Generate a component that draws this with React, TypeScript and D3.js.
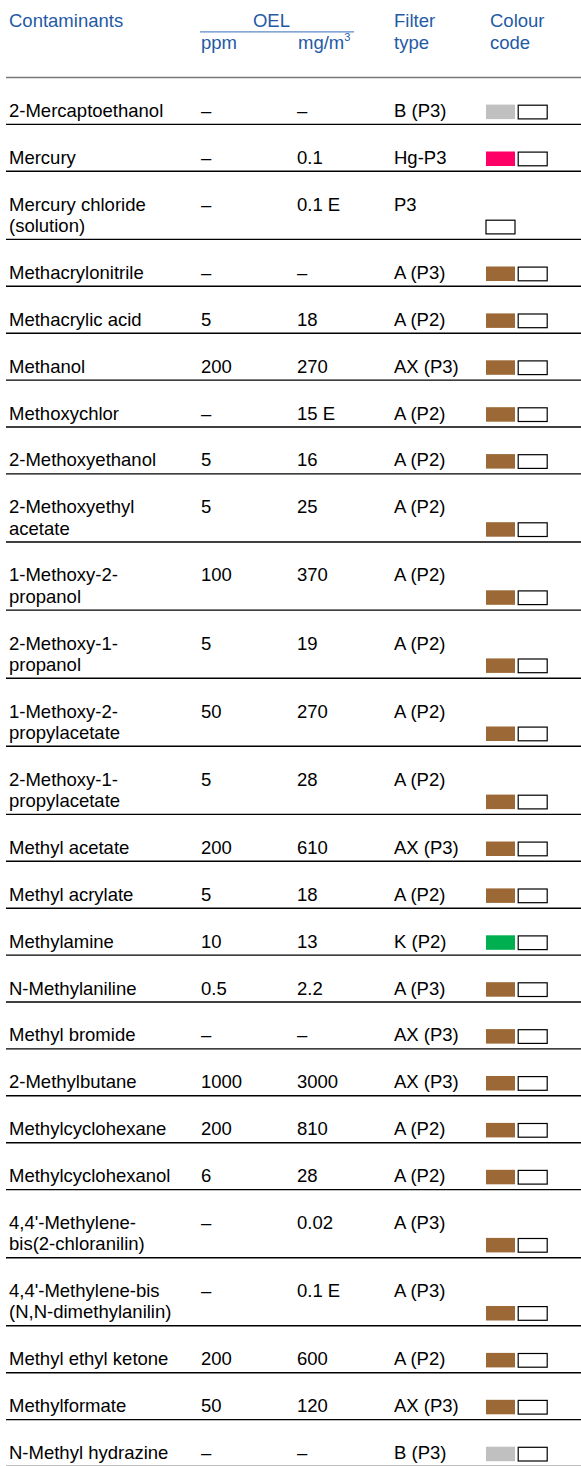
import React from "react";
import * as d3 from "d3";

const names: string[][] = [
  ["2-Mercaptoethanol"],
  ["Mercury"],
  ["Mercury chloride", "(solution)"],
  ["Methacrylonitrile"],
  ["Methacrylic acid"],
  ["Methanol"],
  ["Methoxychlor"],
  ["2-Methoxyethanol"],
  ["2-Methoxyethyl", "acetate"],
  ["1-Methoxy-2-", "propanol"],
  ["2-Methoxy-1-", "propanol"],
  ["1-Methoxy-2-", "propylacetate"],
  ["2-Methoxy-1-", "propylacetate"],
  ["Methyl acetate"],
  ["Methyl acrylate"],
  ["Methylamine"],
  ["N-Methylaniline"],
  ["Methyl bromide"],
  ["2-Methylbutane"],
  ["Methylcyclohexane"],
  ["Methylcyclohexanol"],
  ["4,4'-Methylene-", "bis(2-chloranilin)"],
  ["4,4'-Methylene-bis", "(N,N-dimethylanilin)"],
  ["Methyl ethyl ketone"],
  ["Methylformate"],
  ["N-Methyl hydrazine"],
];
const ppm: string[] = ["–", "–", "–", "–", "5", "200", "–", "5", "5", "100", "5", "50", "5", "200", "5", "10", "0.5", "–", "1000", "200", "6", "–", "–", "200", "50", "–"];
const mg: string[] = ["–", "0.1", "0.1 E", "–", "18", "270", "15 E", "16", "25", "370", "19", "270", "28", "610", "18", "13", "2.2", "–", "3000", "810", "28", "0.02", "0.1 E", "600", "120", "–"];
const filters: string[] = ["B (P3)", "Hg-P3", "P3", "A (P3)", "A (P2)", "AX (P3)", "A (P2)", "A (P2)", "A (P2)", "A (P2)", "A (P2)", "A (P2)", "A (P2)", "AX (P3)", "A (P2)", "K (P2)", "A (P3)", "AX (P3)", "AX (P3)", "A (P2)", "A (P2)", "A (P3)", "A (P3)", "A (P2)", "AX (P3)", "B (P3)"];
const codes: string[] = ["B", "Hg", "P", "A", "A", "A", "A", "A", "A", "A", "A", "A", "A", "A", "A", "K", "A", "A", "A", "A", "A", "A", "A", "A", "A", "B"];
const codeKeys = ["A", "B", "K", "Hg", "P"];
const codeColours = ["#9c6835", "#c0c0c0", "#00b050", "#ff0066", "none"];

const W = 581;
const H = 1466;
const FONT = "'Liberation Sans', Arial, Helvetica, sans-serif";
const FS = 18.5;
const HEADER_BLUE = "#1f5aa5";
const TOP = 77.5;
const FIRST_BASE = 39.4;
const LINE_H = 21.2;
const BOTTOM_PAD = 7.5;

export default function App() {
  const colour = d3.scaleOrdinal<string, string>().domain(codeKeys).range(codeColours);
  const heights = names.map((n) => FIRST_BASE + (n.length - 1) * LINE_H + BOTTOM_PAD);
  const bottoms = Array.from(d3.cumsum(heights)).map((v) => TOP + v);
  const tops = bottoms.map((b, i) => b - heights[i]);

  const xName = 9;
  const xPpm = 201;
  const xMg = 297;
  const xFilter = 394;
  const xSwatch = 486;
  const swW = 29;
  const swH = 14.5;

  return (
    <svg
      width={W}
      height={H}
      style={{ position: "absolute", left: 0, top: 0, background: "#fff" }}
      fontFamily={FONT}
      fontSize={FS}
    >
      <rect x={0} y={0} width={W} height={H} fill="#fff" />
      <g fill={HEADER_BLUE}>
        <text x={xName} y={26.7}>Contaminants</text>
        <text x={271.5} y={26.7} textAnchor="middle">OEL</text>
        <text x={xPpm} y={48.5}>ppm</text>
        <text x={xMg + 1} y={48.5}>
          mg/m<tspan fontSize={11} dy={-7.5}>3</tspan>
        </text>
        <text x={xFilter} y={26.7}>Filter</text>
        <text x={xFilter} y={48.5}>type</text>
        <text x={490} y={26.7}>Colour</text>
        <text x={490} y={48.5}>code</text>
      </g>
      <line x1={200} x2={354} y1={31.8} y2={31.8} stroke="#5b88c4" strokeWidth={1.3} />
      <line x1={6} x2={W} y1={TOP} y2={TOP} stroke="#777" strokeWidth={1.3} />

      {names.map((lines, i) => {
        const base = tops[i] + FIRST_BASE;
        const lastBase = base + (lines.length - 1) * LINE_H;
        const c = colour(codes[i]);
        const swTop = lastBase - 12.3;
        return (
          <g key={i}>
            {lines.map((l, j) => (
              <text key={j} x={xName} y={base + j * LINE_H} fill="#000">{l}</text>
            ))}
            <text x={xPpm} y={base} fill="#000">{ppm[i]}</text>
            <text x={xMg} y={base} fill="#000">{mg[i]}</text>
            <text x={xFilter} y={base} fill="#000">{filters[i]}</text>
            {c !== "none" ? (
              <>
                <rect x={xSwatch} y={swTop} width={swW} height={swH} fill={c} />
                <rect x={xSwatch + swW + 3.2} y={swTop + 0.6} width={swW} height={swH - 0.8} fill="#fff" stroke="#000" strokeWidth={1.2} />
              </>
            ) : (
              <rect x={xSwatch} y={swTop + 0.6} width={swW} height={swH - 0.8} fill="#fff" stroke="#000" strokeWidth={1.2} />
            )}
            <line x1={6} x2={W} y1={bottoms[i]} y2={bottoms[i]} stroke="#000" strokeWidth={1.4} />
          </g>
        );
      })}
    </svg>
  );
}
